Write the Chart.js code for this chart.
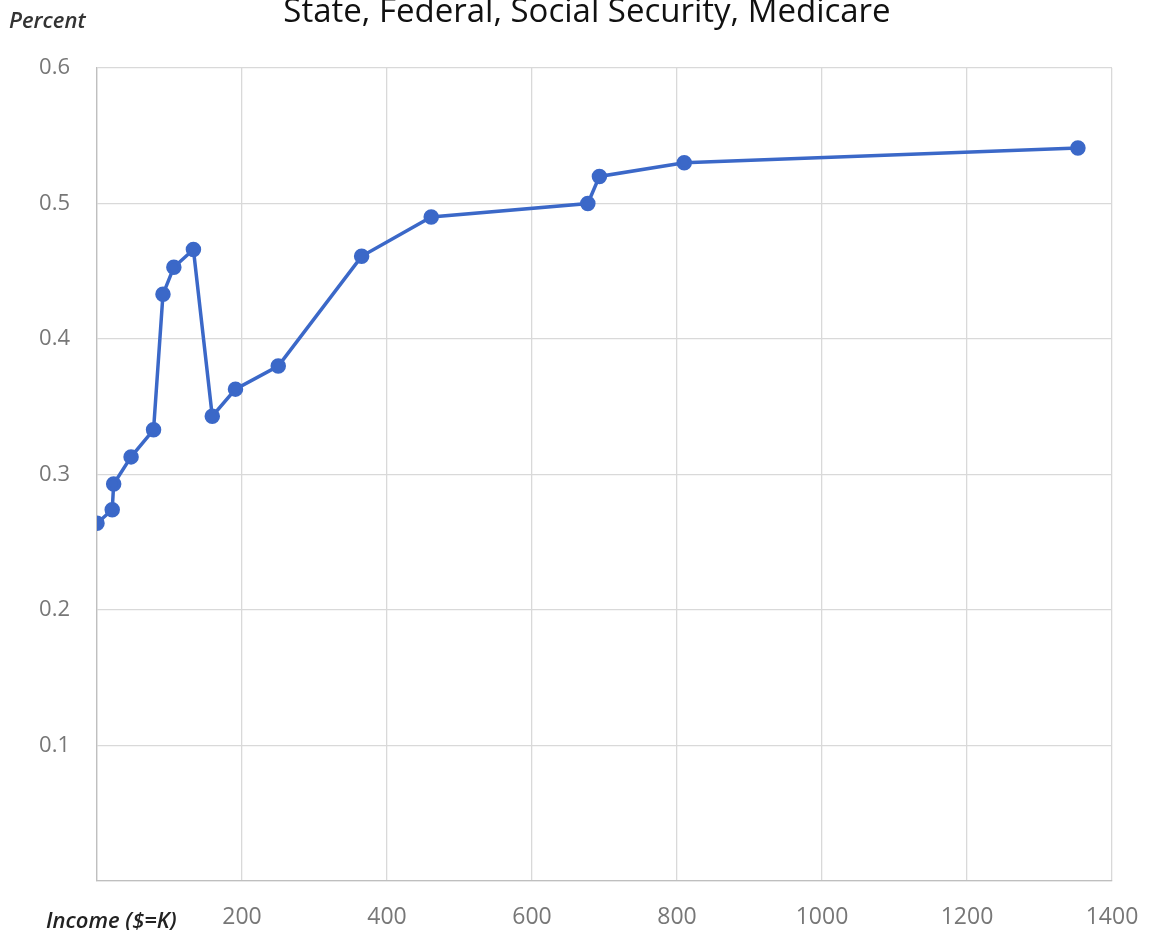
<!DOCTYPE html>
<html>
<head>
<meta charset="utf-8">
<script src="https://cdn.jsdelivr.net/npm/chart.js@4"></script>
<style>
  html, body { margin: 0; padding: 0; background: #fff; }
  #wrap { position: relative; width: 1150px; height: 930px; overflow: hidden; }
  canvas { position: absolute; left: 0; top: 0; }
  .lbl { position: absolute; white-space: nowrap; font-family: "Open Sans", sans-serif; color: #1a1a1a; }
  #title { left: 237px; top: -13px; width: 700px; text-align: center; font-size: 33px; color: #111; }
  #ylab { left: 9px; top: 4px; font-size: 22px; font-style: italic; font-weight: 600; color: #333; }
  #xlab { left: 46px; top: 904px; font-size: 22px; font-style: italic; font-weight: 600; color: #222; }
</style>
</head>
<body>
<div id="wrap">
  <canvas id="c" width="1150" height="930"></canvas>
  <div class="lbl" id="title">State, Federal, Social Security, Medicare</div>
  <div class="lbl" id="ylab">Percent</div>
  <div class="lbl" id="xlab">Income ($=K)</div>
</div>
<script>
const incomeK = [0, 21, 23, 47, 78, 91, 106, 133, 159, 191, 250, 365, 461, 677, 693, 810, 1353];
const taxRate = [0.264, 0.274, 0.293, 0.313, 0.333, 0.433, 0.453, 0.466, 0.343, 0.363, 0.380, 0.461, 0.490, 0.500, 0.520, 0.530, 0.541];
const xTicks = [0, 200, 400, 600, 800, 1000, 1200, 1400];
const yTicks = [0, 0.1, 0.2, 0.3, 0.4, 0.5, 0.6];

const points = incomeK.map((x, i) => ({ x: x, y: taxRate[i] }));

new Chart(document.getElementById('c'), {
  type: 'scatter',
  data: {
    datasets: [{
      data: points,
      showLine: true,
      borderColor: '#3b68c8',
      backgroundColor: '#3b68c8',
      borderWidth: 3.5,
      pointRadius: 6,
      pointHoverRadius: 6,
      tension: 0
    }]
  },
  options: {
    responsive: false,
    animation: false,
    layout: { padding: { left: 0, right: 38, top: 68, bottom: 0 } },
    plugins: { legend: { display: false }, tooltip: { enabled: false }, title: { display: false } },
    scales: {
      x: {
        type: 'linear',
        min: xTicks[0],
        max: xTicks[xTicks.length - 1],
        afterBuildTicks: (s) => { s.ticks = xTicks.map(v => ({ value: v })); },
        afterFit: (s) => { s.height = 49; s.paddingLeft = 0; s.paddingRight = 0; },
        grid: { color: '#d9d9d9', lineWidth: 1.3, drawTicks: false },
        border: { color: '#bfbfbf', width: 1.3 },
        ticks: {
          padding: 23,
          color: '#777',
          font: { family: 'Open Sans', size: 23 },
          maxRotation: 0,
          callback: (v) => v === 0 ? '' : String(v)
        }
      },
      y: {
        type: 'linear',
        min: yTicks[0],
        max: yTicks[yTicks.length - 1],
        afterBuildTicks: (s) => { s.ticks = yTicks.map(v => ({ value: v })); },
        afterFit: (s) => { s.width = 97; s.paddingTop = 0; s.paddingBottom = 0; },
        grid: { color: '#d9d9d9', lineWidth: 1.3, drawTicks: false },
        border: { color: '#bfbfbf', width: 1.3 },
        ticks: {
          padding: 27,
          color: '#777',
          font: { family: 'Open Sans', size: 22 },
          callback: (v) => v === 0 ? '' : (Math.round(v * 10) / 10).toString()
        }
      }
    }
  }
});
</script>
</body>
</html>
